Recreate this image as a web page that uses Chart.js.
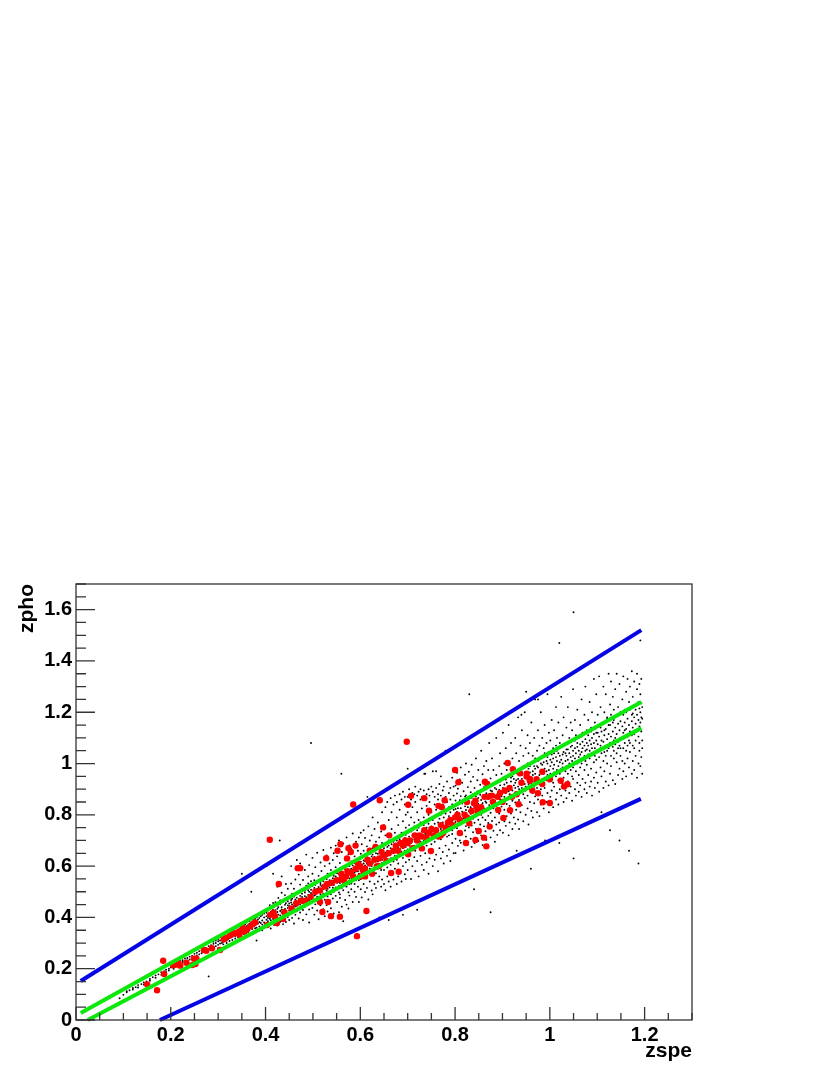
<!DOCTYPE html>
<html><head><meta charset="utf-8">
<style>html,body{margin:0;padding:0;background:#fff}canvas{display:block}</style>
<script src="https://cdn.jsdelivr.net/npm/chart.js@4"></script></head>
<body><div style="width:830px;height:1075px"><canvas id="c"></canvas></div>
<script>
const xLabel="zspe", yLabel="zpho";
const xTickLabels=[0,0.2,0.4,0.6,0.8,1,1.2];
const yTickLabels=[0,0.2,0.4,0.6,0.8,1,1.2,1.4,1.6];
const blueUpper=[[.01,.152],[1.193,1.52]];
const blueLower=[[.177,0],[1.192,.862]];
const greenUpper=[[.01,.027],[1.193,1.24]];
const greenLower=[[.025,0],[1.193,1.138]];
const redPoints=[[.150,.139],[.171,.116],[.184,.231],[.186,.179],[.205,.213],[.212,.216],[.22,.212],[.216,.222],[.233,.223],[.249,.239],[.254,.24],[.245,.214],[.252,.218],[.27,.273],[.275,.27],[.287,.28],[.304,.273],[.312,.315],[.316,.32],[.325,.33],[.33,.335],[.338,.339],[.344,.344],[.35,.35],[.356,.346],[.36,.352],[.345,.332],[.352,.36],[.368,.365],[.374,.375],[.378,.38],[.403,.37],[.41,.41],[.417,.418],[.42,.405],[.424,.378],[.428,.53],[.409,.703],[.437,.394],[.44,.42],[.455,.435],[.465,.455],[.475,.465],[.485,.465],[.495,.48],[.505,.5],[.515,.505],[.525,.52],[.53,.53],[.54,.535],[.55,.545],[.56,.55],[.57,.56],[.58,.575],[.515,.46],[.52,.421],[.532,.46],[.538,.405],[.557,.403],[.593,.327],[.613,.425],[.528,.631],[.468,.592],[.473,.592],[.585,.84],[.552,.66],[.558,.685],[.58,.655],[.59,.68],[.575,.67],[.572,.63],[.62,.66],[.632,.675],[.6,.6],[.61,.59],[.62,.61],[.63,.625],[.64,.63],[.65,.64],[.66,.65],[.59,.59],[.6,.56],[.61,.56],[.625,.57],[.64,.6],[.655,.62],[.67,.66],[.68,.66],[.69,.68],[.7,.69],[.665,.573],[.681,.578],[.648,.751],[.661,.72],[.641,.857],[.698,1.085],[.701,.646],[.73,.669],[.749,.659],[.71,.67],[.72,.7],[.715,.72],[.73,.715],[.74,.71],[.745,.73],[.755,.72],[.76,.74],[.765,.715],[.77,.72],[.775,.73],[.78,.75],[.785,.77],[.79,.78],[.795,.76],[.8,.79],[.805,.8],[.81,.78],[.82,.8],[.825,.79],[.707,.874],[.701,.839],[.735,.865],[.745,.816],[.765,.835],[.772,.83],[.778,.857],[.81,.729],[.823,.69],[.83,.767],[.843,.702],[.85,.737],[.861,.711],[.866,.677],[.873,.754],[.891,.819],[.902,.788],[.916,.818],[.934,.841],[.845,.832],[.85,.82],[.84,.845],[.855,.83],[.848,.81],[.843,.855],[.835,.815],[.825,.85],[.863,.929],[.868,.92],[.862,.87],[.87,.87],[.878,.875],[.89,.87],[.895,.885],[.905,.895],[.915,.905],[.92,.87],[.93,.88],[.94,.925],[.88,.85],[.9,.85],[.911,1.002],[.80,.975],[.807,.927],[.922,.978],[.937,.962],[.951,.949],[.958,.933],[.972,.939],[.984,.968],[.984,.92],[1.0,.939],[1.023,.933],[1.037,.919],[1.03,.91],[1.0,.846],[.985,.849],[.975,.884],[.963,.895],[.951,.96],[.958,.94],[.56,.57],[.565,.545],[.573,.58],[.585,.56],[.595,.61],[.605,.585],[.615,.625],[.635,.6],[.645,.655],[.675,.68],[.685,.69],[.695,.7],[.705,.7],[.725,.72],[.735,.74],[.75,.745],[.77,.76]];
// rows: first number is zspe, the rest are zpho values estimated at that zspe
const blackRows=[
[.092,.085],[.1,.098],[.107,.108,.112],[.113,.116],[.12,.119,.125],[.126,.128],[.131,.127,.136],[.138,.14],[.143,.146,.138],[.149,.15],[.156,.16,.153],[.162,.167],[.168,.165,.174],[.174,.178],[.18,.186,.176],[.186,.19],[.19,.196,.187],[.196,.2,.193],[.2,.205,.211],[.206,.2,.214],[.21,.218,.207],[.215,.22,.226],[.22,.214,.23],[.225,.233,.226],[.23,.224,.24],[.235,.242,.232],[.24,.247,.236],[.245,.25,.239],[.25,.244,.258],[.255,.252,.262],[.26,.268,.256],[.265,.26,.272],[.27,.266,.279],[.275,.28,.271],[.28,.275,.288,.17],[.285,.292,.281],[.29,.283,.297,.305],[.295,.3,.288,.31],[.3,.293,.307,.316,.28],
[.304,.31,.298,.322],[.308,.3,.318,.326],[.311,.315,.305,.295],[.315,.322,.309,.335],[.318,.31,.328,.3],[.321,.33,.316,.34],[.324,.32,.337,.308],[.327,.333,.322,.345],[.33,.325,.34,.312],[.333,.344,.33,.352],[.336,.328,.338,.318],[.339,.348,.332,.36],[.342,.336,.35,.322],[.345,.356,.34,.33],[.348,.345,.362,.328],[.351,.34,.355,.368],[.354,.362,.348,.335],[.357,.345,.372,.33],[.36,.366,.352,.38],[.363,.358,.342,.37],[.366,.375,.35,.385],[.369,.362,.378,.34],[.372,.355,.382,.37],[.375,.39,.366,.345],[.378,.372,.358,.395],[.381,.385,.36,.4,.31],[.384,.376,.392,.35],[.387,.365,.398,.382],[.39,.405,.378,.36],[.393,.388,.372,.41,.35],[.397,.4,.38,.415,.36],
[.402,.391,.418,.376,.405,.433,.362,.6],[.405,.41,.385,.427,.398],[.409,.371,.402,.448,.416,.395],[.411,.422,.436,.389,.357],[.416,.408,.379,.394,.456,.43,.57],[.418,.441,.417,.403,.37],[.421,.386,.428,.459,.413],[.425,.399,.447,.368,.434,.421,.52],[.427,.411,.476,.39,.44],[.431,.452,.425,.383,.408,.466],[.434,.418,.397,.44,.431,.496,.56],[.437,.46,.374,.427,.413],[.441,.406,.449,.433,.487,.392],[.443,.47,.421,.382,.455,.53],[.447,.437,.411,.463,.402,.512,.447],[.45,.426,.454,.39,.478,.444],[.454,.468,.44,.417,.532,.458,.6],[.456,.398,.451,.434,.492,.473],[.46,.481,.429,.457,.512,.376,.445],[.463,.443,.47,.41,.463,.548],[.466,.458,.495,.424,.477,.624,.445],[.47,.437,.471,.502,.396,.461,.567],[.473,.484,.45,.419,.528,.469,.61],[.477,.462,.51,.435,.48,.492],[.479,.429,.474,.39,.546,.456],[.483,.497,.468,.442,.505,.483,.585],[.486,.412,.479,.524,.458,.645],[.49,.488,.449,.506,.474,.56,.532],[.492,.465,.516,.431,.5,.604,.38],[.496,.508,.482,.457,.495,.541,1.08],[.499,.476,.437,.523,.49,.632,.57],[.503,.5,.468,.545,.515,.411,.485],[.505,.527,.488,.451,.508,.596],[.509,.481,.512,.536,.427,.465,.652],[.512,.498,.47,.562,.519,.393,.505],[.516,.534,.49,.447,.506,.614,.527],[.518,.477,.522,.581,.5,.463],[.522,.512,.541,.432,.492,.528,.663],[.525,.486,.53,.469,.6,.518,.405],[.529,.55,.505,.523,.448,.642],[.531,.497,.536,.57,.482,.512,.423],[.535,.517,.46,.545,.528,.61,.5],[.538,.541,.49,.585,.436,.525,.672],[.542,.508,.553,.532,.474,.624,.516],[.544,.526,.562,.5,.415,.544,.65],[.548,.541,.484,.517,.596,.56,.68],[.551,.552,.51,.46,.535,.638,.572],[.555,.523,.568,.545,.497,.42,.7],[.557,.578,.534,.476,.556,.612,.49],[.561,.549,.515,.59,.563,.655,.442],[.564,.531,.574,.557,.506,.688,.385],[.568,.588,.543,.468,.564,.625,.524],[.571,.556,.602,.57,.52,.45,.712],[.575,.541,.582,.498,.565,.646,.435],[.577,.6,.552,.573,.485,.681,.53],[.581,.568,.532,.618,.59,.51,.668],[.584,.585,.55,.46,.603,.57,.727],[.588,.612,.575,.53,.592,.638,.5],[.591,.559,.598,.48,.58,.695,.545],[.595,.58,.628,.52,.6,.56,.66],[.597,.606,.57,.46,.59,.712,.545],
[.601,.59,.617,.55,.51,.604,.648,.73],[.603,.572,.6,.635,.478,.585,.685],[.607,.622,.595,.53,.61,.57,.66,.74],[.61,.58,.603,.64,.499,.62,.71],[.614,.596,.635,.555,.61,.515,.677],[.617,.628,.575,.607,.47,.652,.755],[.62,.612,.59,.648,.54,.63,.7],[.624,.6,.638,.565,.618,.505,.72],[.626,.645,.61,.58,.626,.49,.67,.79],[.63,.62,.595,.66,.53,.636,.745],[.633,.604,.632,.572,.65,.515,.695],[.637,.648,.618,.59,.54,.628,.77],[.64,.628,.605,.668,.56,.712,.86],[.644,.6,.64,.655,.52,.585,.735],[.646,.66,.625,.612,.548,.69,.81],[.65,.635,.67,.585,.645,.53,.76],[.653,.61,.652,.628,.506,.72,.83],[.657,.675,.64,.595,.66,.56,.85],[.66,.622,.655,.68,.54,.7,.78],[.664,.648,.67,.605,.63,.52,.865],[.666,.685,.63,.66,.575,.745,.81],[.67,.65,.618,.695,.548,.665,.84],[.673,.668,.64,.68,.59,.73,.875],[.677,.625,.66,.7,.53,.79,.85],[.68,.69,.65,.675,.61,.56,.76],[.683,.64,.705,.668,.585,.82,.88],[.687,.68,.655,.715,.54,.73,.86],[.69,.632,.695,.67,.6,.775,.89],[.694,.71,.66,.688,.568,.84,.87],[.696,.675,.722,.645,.615,.75,.8,.55],[.7,.695,.665,.73,.585,.87,.81],[.703,.655,.715,.68,.625,.9,.76],[.707,.735,.69,.7,.55,.79,.86],[.71,.672,.72,.74,.6,.885,.83],[.714,.705,.68,.755,.635,.77,.88],[.716,.66,.725,.695,.58,.85,.91],[.72,.74,.7,.715,.62,.81,.875],[.723,.68,.75,.725,.56,.89,.78],[.727,.71,.695,.77,.64,.86,.9],[.73,.735,.67,.72,.605,.825,.87],[.734,.7,.76,.745,.585,.79,.895],[.737,.725,.69,.775,.65,.86,.96],[.74,.75,.715,.68,.615,.835,.88],[.744,.705,.765,.735,.57,.9,.8],[.746,.73,.785,.7,.63,.875,.85],[.75,.755,.72,.685,.66,.81,.91],[.753,.715,.74,.78,.6,.89,.97],[.757,.765,.73,.695,.625,.84,.87],[.76,.71,.75,.795,.645,.905,.82],[.764,.74,.77,.72,.58,.86,.88],[.767,.785,.725,.755,.67,.92,.83],[.77,.745,.705,.8,.63,.875,.95],[.774,.77,.735,.76,.655,.895,.84],[.776,.72,.79,.75,.61,.815,.91],[.78,.76,.805,.74,.68,.87,1.05],[.783,.735,.775,.715,.64,.93,.85],[.787,.795,.755,.72,.665,.885,.83],[.79,.75,.81,.77,.62,.905,.86],[.794,.78,.74,.725,.69,.945,.84],[.797,.765,.82,.795,.65,.875,.91],
[.801,.772,.823,.914,.707,.856,.651],[.804,.811,.748,.964,.792,.883],[.806,.733,.84,.781,.902,.679,.826],[.81,.794,.857,.762,.938,.7],[.812,.826,.691,.873,.775,.985],[.815,.768,.812,.925,.724,.844],[.818,.85,.786,.661,.892,.803],[.821,.739,.833,.956,.798,.871],[.823,.819,.876,.715,.756,1.0],[.827,.862,.795,.908,.684,.83],[.829,.777,.846,.751,.968,.815],[.833,.83,.707,.888,.804,.93],[.835,.758,.866,.822,.995,.675],[.838,.88,.813,.785,.948,.732],[.841,.838,.769,.905,.69,.857],[.844,.797,.872,.82,1.02,.745],[.847,.853,.728,.935,.806,.891],[.849,.781,.842,.975,.698,.866],[.853,.878,.826,.762,.917,.81],[.855,.8,.895,.72,.858,1.05],[.858,.845,.79,.958,.835,.682],[.861,.87,.755,.825,.908,.99],[.864,.815,.9,.736,.852,.78],[.866,.884,.847,1.01,.703,.93],[.87,.796,.862,.975,.828,.768],[.872,.91,.838,.748,.881,1.08],[.875,.853,.808,.942,.712,.895],[.878,.892,.776,.87,.83,1.02],[.881,.825,.918,.843,.738,.975],[.884,.868,.79,.905,.855,.695],[.887,.9,.835,.955,.762,1.1],[.889,.845,.926,.812,.88,.722],[.893,.876,.805,.99,.897,.77],[.895,.93,.86,.74,.915,1.04],[.898,.832,.888,.96,.785,.872],
[.901,.905,.852,.73,.945,1.12],[.904,.87,.82,.918,1.0,.775],[.907,.938,.885,.757,.858,1.06],[.909,.842,.9,.975,.795,.925],[.913,.892,.955,.72,.866,1.15],[.915,.91,.835,.998,.88,.77],[.918,.868,.93,.805,.945,1.08],[.921,.95,.895,.745,.855,1.02],[.924,.876,.915,.79,.982,.94],[.927,.925,.848,1.1,.905,.765],[.929,.888,.962,.82,1.04,.935],[.933,.94,.875,.782,.91,1.18],[.935,.9,.975,.858,.745,1.01],[.938,.925,.968,.81,.885,1.07],[.941,.955,.905,1.13,.838,.94],[.944,.88,.93,.775,.99,1.03],[.947,.945,.985,.865,.92,1.2],[.949,.91,.96,.8,1.06,.895],[.953,.935,.875,1.0,.825,1.11],[.955,.98,.92,.762,.95,1.04],[.958,.9,.965,1.08,.85,.99],[.961,.945,1.005,.815,.925,1.16],[.964,.97,.885,1.03,.79,.955],[.967,.93,.99,.845,1.1,.91],[.969,.96,1.02,.872,.98,1.25],[.973,.905,.945,.81,1.05,.99],[.975,.985,.93,1.13,.86,1.01],[.978,.955,1.015,.795,.92,1.07],[.981,.97,.9,1.0,1.2,.84],[.984,1.03,.94,.875,.995,1.1],[.987,.96,1.005,.825,1.06,.925],[.989,.98,1.04,.905,1.15,.945],[.993,.935,1.01,.85,.97,1.08],[.995,1.0,.955,1.27,.885,1.025],[.998,.975,1.045,.81,.93,1.12],
[1.001,1.015,.96,.87,1.09,.99],[1.004,.945,1.035,1.17,.895,1.005],[1.007,1.06,.98,.83,1.02,.925],[1.009,.995,1.04,.91,1.13,.965],[1.013,1.025,.95,1.22,.86,1.07],[1.015,.975,1.05,.885,1.01,1.1],[1.018,1.04,.99,.84,1.16,.935],[1.021,1.005,.96,1.08,.9,1.03],[1.024,1.065,1.015,.875,.98,1.26],[1.027,.985,1.035,.92,1.11,1.0],[1.029,1.045,.945,.85,1.07,1.18],[1.033,1.01,1.075,.97,.895,1.04],[1.035,1.03,.99,1.14,.865,1.055],[1.038,1.055,.96,.93,1.22,1.015],[1.041,1.0,1.085,.885,1.04,1.1],[1.044,1.025,.975,1.16,.91,1.065],[1.047,1.07,1.01,.855,1.13,.95],[1.049,.985,1.05,.94,1.29,1.03],[1.053,1.09,1.02,.9,1.06,1.17],[1.055,1.04,.97,1.11,.875,1.005],[1.058,1.065,1.0,.925,1.21,1.08],[1.061,1.025,1.1,.955,.89,1.05],[1.064,1.075,.985,1.15,.915,1.035],[1.067,1.045,1.105,.87,1.0,1.25],[1.069,1.085,1.015,.94,1.12,1.06],[1.073,1.03,1.07,.9,1.19,.975],[1.075,1.095,1.05,.925,1.01,1.3],[1.078,1.055,.995,1.13,.885,1.08],[1.081,1.11,1.035,.955,1.17,1.07],[1.084,1.02,1.09,.91,1.05,1.24],[1.087,1.075,1.125,.98,1.14,.93],[1.089,1.04,1.1,.875,1.2,1.06],[1.093,1.115,1.005,.945,1.08,1.33],[1.095,1.06,1.135,.905,1.03,1.16],[1.098,1.09,1.015,.965,1.27,1.12],
[1.101,1.05,1.12,.925,1.075,1.19],[1.104,1.105,1.025,.89,1.15,1.34],[1.107,1.07,1.14,.985,1.06,1.22],[1.109,1.125,1.04,.95,.81,1.09],[1.113,1.085,1.16,.905,1.01,1.3],[1.115,1.045,1.11,.97,1.2,1.13],[1.118,1.135,1.07,.93,1.27,1.03],[1.121,1.095,1.175,1.0,1.05,1.18],[1.124,1.06,1.115,.915,1.35,1.15],[1.127,1.15,1.08,.96,1.23,.74],[1.129,1.03,1.105,.99,1.19,1.32],[1.133,1.125,1.065,.935,1.16,1.26],[1.135,1.17,1.09,1.02,1.05,1.21],[1.138,1.075,1.14,.92,1.29,1.1],[1.141,1.115,1.185,1.005,1.04,1.35],[1.144,1.085,1.155,.955,1.22,1.06],[1.147,1.13,1.07,.98,1.31,.7],[1.149,1.165,1.1,1.03,1.2,1.06],[1.153,1.095,1.145,.94,1.25,1.01],[1.155,1.19,1.12,1.06,1.34,.97],[1.158,1.08,1.16,1.0,1.21,1.13],[1.161,1.135,1.2,.95,1.28,1.05],[1.164,1.105,1.175,1.02,1.07,1.33],[1.167,1.15,1.09,.985,1.24,.66],[1.169,1.21,1.125,1.045,1.3,1.08],[1.173,1.165,1.11,.96,1.19,1.36],[1.175,1.14,1.195,1.01,1.26,1.07],[1.178,1.115,1.18,1.06,.975,1.32],[1.181,1.225,1.155,1.03,1.21,1.09],[1.184,1.13,1.19,.945,1.29,1.35],[1.187,1.17,1.105,1.0,1.24,.61],[1.189,1.215,1.145,1.05,1.31,1.08],[1.191,1.16,1.2,.99,1.48,1.27],[1.193,1.125,1.235,1.025,1.18,1.33],[1.195,1.175,1.09,1.06,1.22,.96]];
const outliers=[[.43,.7],[.35,.57],[.355,.55],[.37,.5],[.56,.96],[.6,.83],[.615,.87],[.69,.41],[.72,.43],[.66,.39],[.64,.4],[.875,.42],[.7,.98],[.76,.97],[.83,1.27],[.89,1.17],[.94,1.19],[.95,1.28],[.975,1.25],[.735,.96],[.8,.53],[.84,.51],[.96,.59],[1.05,.63],[1.02,.69],[.93,.66],[.99,.7],[1.02,1.47],[1.05,1.59]];
const majorStep=0.2, minorStep=0.05;
const F='"Liberation Sans",Arial,sans-serif';
const black=outliers.map(p=>({x:p[0],y:p[1]}));blackRows.forEach(r=>r.slice(1).forEach(y=>black.push({x:r[0],y})));
const P=a=>a.map(p=>({x:p[0],y:p[1]}));
const line=(d,c)=>({type:'line',data:P(d),borderColor:c,borderWidth:4,pointRadius:0,showLine:true,order:1,clip:false});
const isMajor=v=>Math.abs(v/majorStep-Math.round(v/majorStep))<1e-6;
const frame={id:'frame',afterDatasetsDraw(ch){
  const {ctx,chartArea:a,scales:{x,y}}=ch;ctx.save();ctx.strokeStyle='#333';ctx.lineWidth=1.3;
  ctx.strokeRect(a.left,a.top,a.right-a.left,a.bottom-a.top);ctx.beginPath();
  for(let v=0;v<=1.3001;v+=minorStep){const p=x.getPixelForValue(v),l=isMajor(v)?13:7;ctx.moveTo(p,a.bottom);ctx.lineTo(p,a.bottom-l);}
  for(let v=0;v<=1.7001;v+=minorStep){const p=y.getPixelForValue(v),l=isMajor(v)?19:10;ctx.moveTo(a.left,p);ctx.lineTo(a.left+l,p);}
  ctx.stroke();ctx.restore();}};
new Chart(document.getElementById('c'),{type:'scatter',
 data:{datasets:[
  line(greenUpper,'#0ce80c'),line(greenLower,'#0ce80c'),line(blueUpper,'#0404e4'),line(blueLower,'#0404e4'),
  {data:P(redPoints),backgroundColor:'#ff0000',borderWidth:0,pointRadius:3.2,pointHoverRadius:3.2,order:2},
  {data:black,backgroundColor:'#000',borderWidth:0,pointRadius:.95,pointHoverRadius:.95,order:3}]},
 plugins:[frame],
 options:{responsive:true,maintainAspectRatio:false,animation:false,events:[],
  layout:{padding:{top:584,right:138,left:0,bottom:0}},
  plugins:{legend:{display:false},tooltip:{enabled:false}},
  scales:{
   x:{min:0,max:1.3,grid:{display:false,drawTicks:false},border:{display:false},
    afterFit(s){s.height=55},
    afterBuildTicks(s){s.ticks=xTickLabels.map(v=>({value:v}))},
    ticks:{autoSkip:false,maxRotation:0,padding:3,color:'#000',font:{family:F,weight:'bold',size:20},callback:v=>String(+v.toFixed(1))},
    title:{display:true,text:xLabel,align:'end',color:'#000',font:{family:F,weight:'bold',size:21},padding:{top:0,bottom:11}}},
   y:{min:0,max:1.7,grid:{display:false,drawTicks:false},border:{display:false},
    afterFit(s){s.width=76},
    afterBuildTicks(s){s.ticks=yTickLabels.map(v=>({value:v}))},
    ticks:{autoSkip:false,padding:4,color:'#000',font:{family:F,weight:'bold',size:20},callback:v=>String(+v.toFixed(1))},
    title:{display:true,text:yLabel,align:'end',color:'#000',font:{family:F,weight:'bold',size:21},padding:{top:15,bottom:0}}}
  }}});
</script></body></html>
